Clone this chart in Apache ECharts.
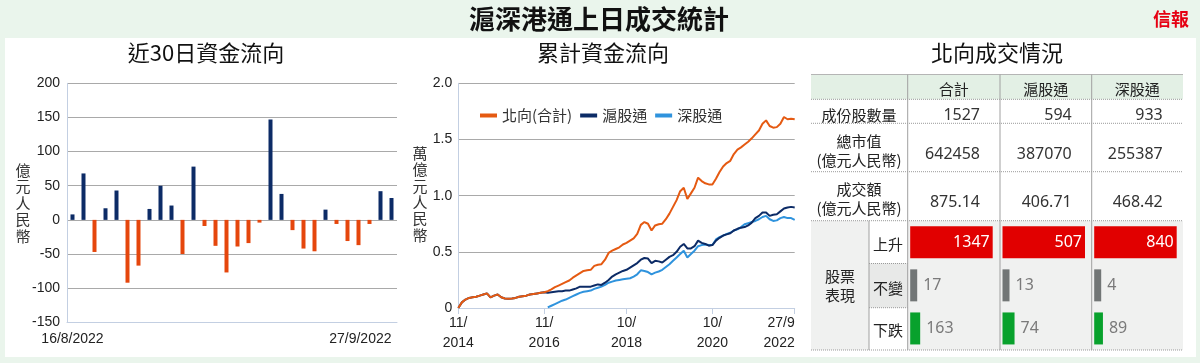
<!DOCTYPE html>
<html><head><meta charset="utf-8">
<script src="https://cdn.jsdelivr.net/npm/echarts@6/dist/echarts.min.js"></script>
<style>html,body{margin:0;padding:0;background:#eaf5ec}#c{width:1200px;height:363px}</style>
</head><body><div id="c"></div>
<script>
const mainTitle = '滬深港通上日成交統計';
const subTitles = ['近30日資金流向', '累計資金流向', '北向成交情況'];
const flowUnit = '億元人民幣';
const cumUnit = '萬億元人民幣';

const flowDates = ['16/8/2022','17/8/2022','18/8/2022','19/8/2022','22/8/2022','23/8/2022','24/8/2022','25/8/2022','26/8/2022','29/8/2022','30/8/2022','31/8/2022','1/9/2022','2/9/2022','5/9/2022','6/9/2022','7/9/2022','8/9/2022','9/9/2022','13/9/2022','14/9/2022','15/9/2022','16/9/2022','19/9/2022','20/9/2022','21/9/2022','22/9/2022','23/9/2022','26/9/2022','27/9/2022'];
const flowValues = [8, 68, -47, 17, 43, -92, -67, 16, 50, 21, -50, 78, -9, -38, -77, -39, -34, -4, 147, 38, -15, -42, -46, 15, -6, -31, -37, -6, 42, 32];
const flowTickLabels = ['16/8/2022', '27/9/2022'];

const cumMonths = [];
for (let y = 2014, m = 11; y < 2022 || (y === 2022 && m <= 9);) {
  cumMonths.push(y + '-' + String(m).padStart(2, '0'));
  m++; if (m > 12) { m = 1; y++; }
}
const cumNames = ['北向(合計)', '滬股通', '深股通'];
const cumNorth = [0.0,0.05,0.075,0.09,0.095,0.10,0.11,0.12,0.13,0.095,
 0.11,0.12,0.095,0.085,0.083,0.085,0.09,0.10,0.105,0.11,
 0.12,0.125,0.13,0.135,0.14,0.15,0.165,0.185,0.20,0.215,
 0.23,0.245,0.27,0.29,0.31,0.33,0.335,0.34,0.375,0.385,
 0.39,0.43,0.49,0.51,0.525,0.54,0.565,0.58,0.60,0.62,
 0.66,0.74,0.765,0.75,0.69,0.735,0.745,0.75,0.79,0.84,
 0.90,0.96,1.04,1.07,0.97,1.02,1.07,1.16,1.13,1.11,
 1.10,1.10,1.15,1.21,1.26,1.29,1.31,1.37,1.41,1.43,
 1.455,1.48,1.51,1.545,1.58,1.64,1.67,1.62,1.605,1.61,
 1.64,1.70,1.68,1.685,1.68];
const cumSH = [0.0,0.05,0.075,0.09,0.095,0.10,0.11,0.12,0.13,0.095,
 0.11,0.12,0.095,0.085,0.083,0.085,0.09,0.10,0.105,0.11,
 0.12,0.125,0.13,0.135,0.14,0.135,0.14,0.145,0.15,0.15,
 0.155,0.155,0.165,0.175,0.19,0.19,0.19,0.19,0.20,0.21,
 0.205,0.225,0.25,0.28,0.30,0.315,0.33,0.34,0.36,0.38,
 0.40,0.43,0.445,0.44,0.40,0.42,0.415,0.405,0.43,0.455,
 0.47,0.50,0.545,0.57,0.53,0.53,0.55,0.60,0.58,0.57,
 0.555,0.56,0.60,0.625,0.645,0.655,0.665,0.69,0.705,0.715,
 0.72,0.735,0.76,0.80,0.82,0.85,0.85,0.82,0.83,0.835,
 0.86,0.885,0.895,0.90,0.895];
const cumSZ = [null,null,null,null,null,null,null,null,null,null,
 null,null,null,null,null,null,null,null,null,null,
 null,null,null,null,null,0.005,0.02,0.035,0.05,0.065,
 0.075,0.09,0.105,0.12,0.135,0.145,0.15,0.155,0.17,0.18,
 0.19,0.205,0.225,0.235,0.245,0.25,0.255,0.26,0.265,0.28,
 0.30,0.335,0.33,0.32,0.30,0.315,0.325,0.34,0.365,0.39,
 0.42,0.45,0.48,0.51,0.45,0.48,0.51,0.55,0.56,0.565,
 0.56,0.56,0.61,0.63,0.645,0.66,0.67,0.69,0.70,0.72,
 0.745,0.755,0.765,0.775,0.79,0.81,0.82,0.79,0.775,0.78,
 0.80,0.81,0.80,0.80,0.785];
const cumTickMonths = ['2014-11', '2016-11', '2018-10', '2020-10', '2022-09'];
const cumTickLabels = ['11/\n2014', '11/\n2016', '10/\n2018', '10/\n2020', '27/9\n2022'];

const tableCols = ['合計', '滬股通', '深股通'];
const rowLabels = ['成份股數量', '總市值\n(億元人民幣)', '成交額\n(億元人民幣)', '股票\n表現'];
const perfLabels = ['上升', '不變', '下跌'];
const constituents = ['1527', '594', '933'];
const marketCap = ['642458', '387070', '255387'];
const turnover = ['875.14', '406.71', '468.42'];
const risers = [1347, 507, 840];
const unchanged = [17, 13, 4];
const fallers = [163, 74, 89];

const C = {
  green: '#eaf5ec', navy: '#0c2b66', orange: '#e5460c', sz: '#2f93dd', north: '#e55a12',
  grid: '#a9a9a9', axis: '#c3cfe2', txt: '#222'
};
const CJK = '"Noto Sans CJK TC", "Noto Sans CJK SC", sans-serif';
const NUM = '"Liberation Sans", Arial, sans-serif';

const chart = echarts.init(document.getElementById('c'), null, { renderer: 'canvas' });

// table geometry
const tX0 = 811, tX1 = 1183;
const colX = [907.7, 1000, 1091.7, 1182.7];
const rowY = [74.5, 99.3, 123.3, 171.7, 220.7, 350];
const subColX = 869;
const subRowY = [220.7, 263.5, 307.7, 350];

const graphics = [];
// white panel
graphics.push({ type: 'rect', z: -100, shape: { x: 5, y: 38, width: 1191, height: 319 }, style: { fill: '#ffffff' } });
// titles
graphics.push({ type: 'text', x: 599, y: 19, style: { text: mainTitle, fill: '#111', font: 'bold 26px ' + CJK, align: 'center', verticalAlign: 'middle' } });
graphics.push({ type: 'text', x: 1171, y: 19, style: { text: '信報', fill: '#e60012', font: 'bold 18px ' + CJK, align: 'center', verticalAlign: 'middle' } });
[[206, 53], [603, 53], [997, 53]].forEach((p, i) => {
  graphics.push({ type: 'text', x: p[0], y: p[1], style: { text: subTitles[i], fill: '#111', font: '22px ' + CJK, align: 'center', verticalAlign: 'middle' } });
});
// axis names (vertical)
graphics.push({ type: 'text', x: 23, y: 203, style: { text: flowUnit.split('').join('\n'), fill: '#333', font: '15px ' + CJK, lineHeight: 16.4, align: 'center', verticalAlign: 'middle' } });
graphics.push({ type: 'text', x: 420, y: 194, style: { text: cumUnit.split('').join('\n'), fill: '#333', font: '15px ' + CJK, lineHeight: 16.4, align: 'center', verticalAlign: 'middle' } });

// table backgrounds
graphics.push({ type: 'rect', z: -50, shape: { x: tX0, y: rowY[0], width: tX1 - tX0, height: rowY[1] - rowY[0] }, style: { fill: '#e3f0e5' } });
graphics.push({ type: 'rect', z: -50, shape: { x: tX0, y: rowY[4], width: tX1 - tX0, height: rowY[5] - rowY[4] }, style: { fill: '#f0f1f0' } });
graphics.push({ type: 'rect', z: -49, shape: { x: subColX, y: subRowY[0], width: colX[0] - subColX, height: subRowY[1] - subRowY[0] }, style: { fill: '#ffffff' } });
graphics.push({ type: 'rect', z: -49, shape: { x: subColX, y: subRowY[1], width: colX[0] - subColX, height: subRowY[2] - subRowY[1] }, style: { fill: '#e8e9e8' } });
graphics.push({ type: 'rect', z: -49, shape: { x: subColX, y: subRowY[2], width: colX[0] - subColX, height: subRowY[3] - subRowY[2] }, style: { fill: '#ffffff' } });
// table lines
graphics.push({ type: 'line', z: -40, shape: { x1: tX0, y1: rowY[0], x2: tX1, y2: rowY[0] }, style: { stroke: '#b5b5b5', lineWidth: 1 } });
rowY.slice(1).forEach(y => {
  graphics.push({ type: 'line', z: -40, shape: { x1: tX0, y1: y, x2: tX1, y2: y }, style: { stroke: '#9a9a9a', lineWidth: 1, lineDash: [1, 1] } });
});
[subRowY[1], subRowY[2]].forEach(y => {
  graphics.push({ type: 'line', z: -40, shape: { x1: subColX, y1: y, x2: colX[0], y2: y }, style: { stroke: '#9a9a9a', lineWidth: 1, lineDash: [1, 1] } });
});
colX.slice(0, 3).forEach(x => {
  graphics.push({ type: 'line', z: -40, shape: { x1: x, y1: rowY[0], x2: x, y2: rowY[5] }, style: { stroke: '#a0a0a0', lineWidth: 1 } });
});
graphics.push({ type: 'line', z: -40, shape: { x1: subColX, y1: subRowY[0], x2: subColX, y2: subRowY[3] }, style: { stroke: '#a0a0a0', lineWidth: 1 } });

// table text
const cellText = (t, x, y, align, font, lh) => graphics.push({ type: 'text', x, y, style: { text: t, fill: C.txt, font, align, verticalAlign: 'middle', lineHeight: lh || 19 } });
tableCols.forEach((t, i) => cellText(t, (colX[i] + colX[i + 1]) / 2, 89, 'center', '15px ' + CJK));
cellText(rowLabels[0], 859, 115.5, 'center', '15px ' + CJK);
cellText(rowLabels[1], 859, 151, 'center', '15px ' + CJK, 19.5);
cellText(rowLabels[2], 859, 199, 'center', '15px ' + CJK, 19.5);
cellText(rowLabels[3], 840, 286, 'center', '15px ' + CJK, 19);
[244, 288, 330].forEach((y, i) => cellText(perfLabels[i], 888, y, 'center', '15px ' + CJK));
const numFont = '16px "Noto Sans", "Open Sans", sans-serif';
[constituents, marketCap, turnover].forEach((arr, r) => {
  const y = [115.5, 154, 202.5][r];
  arr.forEach((v, i) => graphics.push({ type: 'text', x: colX[i + 1] - 20, y, style: { text: v, fill: '#333', font: numFont, align: 'right', verticalAlign: 'middle' } }));
});

// table bar grids
const tGrids = [0, 1, 2].map(i => ({ left: colX[i] + 2.5, top: subRowY[0], width: 82.5, height: subRowY[3] - subRowY[0] }));

const option = {
  backgroundColor: C.green,
  animation: false,
  graphic: { elements: graphics },
  legend: {
    data: cumNames, left: 475, top: 103, icon: 'rect', itemWidth: 17, itemHeight: 4, itemGap: 8,
    textStyle: { fontSize: 15, fontFamily: CJK, color: '#333', padding: [0, 0, 0, 0] }
  },
  grid: [
    { left: 67, top: 83.3, width: 330, height: 239 },
    { left: 458.3, top: 83.3, width: 336.4, height: 224.7 },
    ...tGrids
  ],
  xAxis: [
    {
      gridIndex: 0, type: 'category', data: flowDates, boundaryGap: true,
      axisLine: { onZero: false, lineStyle: { color: C.axis } },
      axisTick: { alignWithLabel: true, length: 6, lineStyle: { color: C.axis }, interval: (i) => i === 0 || i === flowDates.length - 1 },
      axisLabel: {
        interval: (i) => i === 0 || i === flowDates.length - 1, margin: 10, fontSize: 14, fontFamily: NUM, color: C.txt,
        alignMaxLabel: 'right',
        formatter: (v, i) => (i === 0 ? flowTickLabels[0] : flowTickLabels[1])
      },
      splitLine: { show: false }
    },
    {
      gridIndex: 1, type: 'category', data: cumMonths, boundaryGap: false,
      axisLine: { lineStyle: { color: C.axis } },
      axisTick: { length: 6, lineStyle: { color: C.axis }, interval: (i, v) => cumTickMonths.indexOf(v) >= 0 },
      axisLabel: {
        interval: (i, v) => cumTickMonths.indexOf(v) >= 0, margin: 5, fontSize: 14, lineHeight: 20, fontFamily: NUM, color: C.txt,
        alignMaxLabel: 'right',
        formatter: (v) => cumTickLabels[cumTickMonths.indexOf(v)]
      },
      splitLine: { show: false }
    },
    ...[0, 1, 2].map(i => ({ gridIndex: 2 + i, type: 'value', min: 0, max: risers[i], show: false }))
  ],
  yAxis: [
    {
      gridIndex: 0, type: 'value', min: -150, max: 200, interval: 50,
      axisLine: { show: true, lineStyle: { color: C.axis } }, axisTick: { show: false },
      axisLabel: { margin: 7, fontSize: 14, fontFamily: NUM, color: C.txt },
      splitLine: { lineStyle: { color: C.grid } }
    },
    {
      gridIndex: 1, type: 'value', min: 0, max: 2, interval: 0.5,
      axisLine: { show: true, lineStyle: { color: C.axis } }, axisTick: { show: false },
      axisLabel: { margin: 6, fontSize: 14, fontFamily: NUM, color: C.txt, formatter: v => (v === 0 ? '0' : v.toFixed(1)) },
      splitLine: { lineStyle: { color: C.grid } }
    },
    ...[0, 1, 2].map(i => ({ gridIndex: 2 + i, type: 'category', data: perfLabels, inverse: true, show: false }))
  ],
  series: [
    {
      type: 'bar', xAxisIndex: 0, yAxisIndex: 0, data: flowValues, barWidth: 4,
      itemStyle: { color: p => (p.value >= 0 ? C.navy : C.orange) }
    },
    { name: cumNames[0], type: 'line', xAxisIndex: 1, yAxisIndex: 1, data: cumNorth, showSymbol: false, symbol: 'none', z: 5, lineStyle: { width: 2, color: C.north }, itemStyle: { color: C.north } },
    { name: cumNames[1], type: 'line', xAxisIndex: 1, yAxisIndex: 1, data: cumSH, showSymbol: false, symbol: 'none', z: 4, lineStyle: { width: 2, color: C.navy }, itemStyle: { color: C.navy } },
    { name: cumNames[2], type: 'line', xAxisIndex: 1, yAxisIndex: 1, data: cumSZ, showSymbol: false, symbol: 'none', z: 3, lineStyle: { width: 2, color: C.sz }, itemStyle: { color: C.sz } },
    ...[0, 1, 2].map(i => ({
      type: 'bar', xAxisIndex: 2 + i, yAxisIndex: 2 + i, barWidth: 32, barMinHeight: 7,
      data: [
        { value: risers[i], itemStyle: { color: '#e10000' }, label: { show: true, position: 'insideRight', distance: 3, color: '#fff', fontSize: 16, fontFamily: '"Noto Sans", sans-serif' } },
        { value: unchanged[i], itemStyle: { color: '#727676' }, label: { show: true, position: 'right', distance: 6, color: '#7a7a7a', fontSize: 16, fontFamily: '"Noto Sans", sans-serif' } },
        { value: fallers[i], itemStyle: { color: '#08a12c' }, label: { show: true, position: 'right', distance: 6, color: '#7a7a7a', fontSize: 16, fontFamily: '"Noto Sans", sans-serif' } }
      ]
    }))
  ]
};
chart.setOption(option);
</script>
</body></html>
